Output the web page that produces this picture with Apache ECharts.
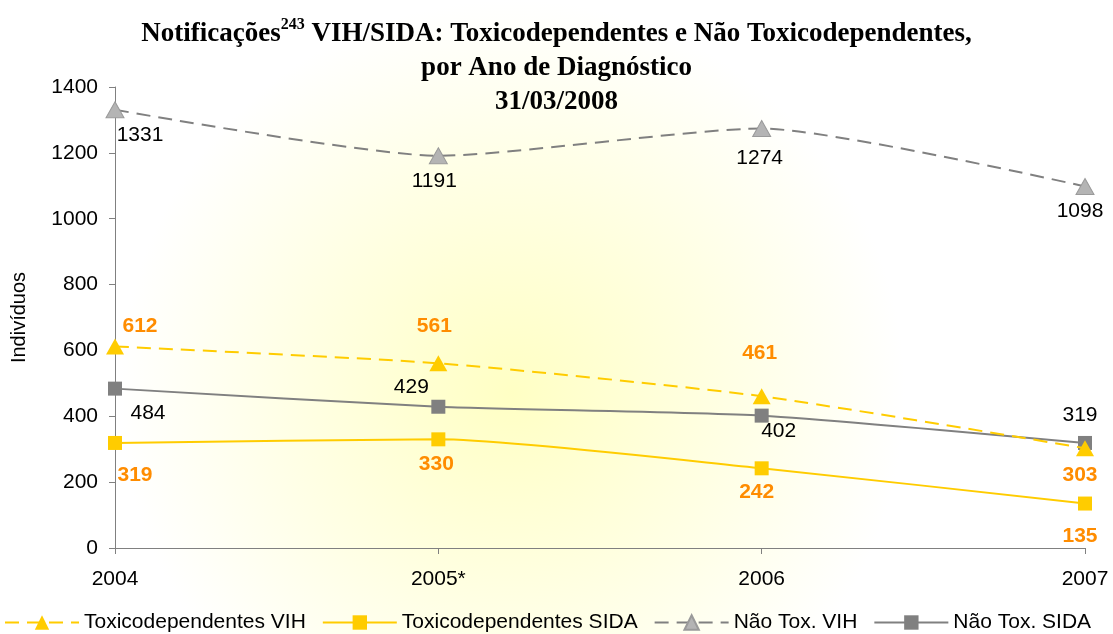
<!DOCTYPE html>
<html>
<head>
<meta charset="utf-8">
<script src="https://cdn.jsdelivr.net/npm/echarts@6/dist/echarts.min.js"></script>
<style>
  html, body { margin: 0; padding: 0; background: #fff; }
  #chart { width: 1113px; height: 634px; }
</style>
</head>
<body>
<div id="chart"></div>
<script>
const years = ['2004', '2005*', '2006', '2007']
const yTicks = [0, 200, 400, 600, 800, 1000, 1200, 1400]

const toxVih = [612, 561, 461, 303]
const toxSida = [319, 330, 242, 135]
const naoToxVih = [1331, 1191, 1274, 1098]
const naoToxSida = [484, 429, 402, 319]

// label offsets from the marker centre, one per point
const toxVihOff = [[25, -20], [-4, -37], [-2, -43], [-5, 27]]
const toxSidaOff = [[20, 32], [-2, 25], [-5, 24], [-5, 33]]
const naoVihOff = [[25, 25], [-4, 25], [-2, 30], [-5, 25]]
const naoSidaOff = [[33, 25], [-27, -20], [17, 16], [-5, -28]]

const sans = 'Liberation Sans, Arial, sans-serif'
const serif = 'Liberation Serif, Times New Roman, serif'
const orangeLabel = { color: '#FF8C00', fontWeight: 'bold', fontSize: 21, fontFamily: sans }
const blackLabel = { color: '#000', fontSize: 21, fontFamily: sans }

function points(values, offsets, style) {
  return values.map((v, i) => ({
    value: v,
    label: {
      show: true,
      position: 'inside',
      offset: offsets[i],
      formatter: String(v),
      ...style,
    },
  }))
}

const chart = echarts.init(document.getElementById('chart'))

const option = {
  animation: false,
  backgroundColor: {
    type: 'radial', x: 0.46, y: 0.62, r: 0.62,
    colorStops: [
      { offset: 0, color: '#FFFFC4' },
      { offset: 0.55, color: '#FFFFE4' },
      { offset: 1, color: '#FFFFFF' },
    ],
  },
  title: {
    left: 'center',
    top: 12,
    text: '{t|Notificações}{sup|243}{t| VIH/SIDA: Toxicodependentes e Não Toxicodependentes,}\n{t|por Ano de Diagnóstico}\n{t|31/03/2008}',
    textStyle: {
      rich: {
        t: { fontFamily: serif, fontWeight: 'bold', fontSize: 27, lineHeight: 34, color: '#000' },
        sup: { fontFamily: serif, fontWeight: 'bold', fontSize: 16, lineHeight: 34, verticalAlign: 'top', padding: [0, 0, 12, 0], color: '#000' },
      },
    },
  },
  grid: { left: 115, right: 28, top: 87, bottom: 86 },
  legend: {
    top: 612,
    left: 4,
    width: 1109,
    padding: 0,
    itemGap: 16,
    itemWidth: 74,
    itemHeight: 18,
    textStyle: { fontSize: 21, color: '#000', fontFamily: sans },
    data: ['Toxicodependentes VIH', 'Toxicodependentes SIDA', 'Não Tox. VIH', 'Não Tox. SIDA'],
  },
  xAxis: {
    type: 'category',
    data: years,
    boundaryGap: false,
    axisLine: { lineStyle: { color: '#808080' } },
    axisTick: { show: true, length: 6, lineStyle: { color: '#808080' } },
    axisLabel: { color: '#000', fontSize: 21, margin: 21, fontFamily: sans },
  },
  yAxis: {
    type: 'value',
    min: yTicks[0],
    max: yTicks[yTicks.length - 1],
    interval: 200,
    name: 'Indivíduos',
    nameLocation: 'middle',
    nameGap: 86,
    nameTextStyle: { color: '#000', fontSize: 20, fontFamily: sans },
    axisLine: { show: true, lineStyle: { color: '#808080' } },
    axisTick: { show: true, length: 6, lineStyle: { color: '#808080' } },
    splitLine: { show: false },
    axisLabel: { color: '#000', fontSize: 21, margin: 17, fontFamily: sans, formatter: (v) => String(v) },
  },
  series: [
    {
      name: 'Toxicodependentes VIH',
      type: 'line',
      data: points(toxVih, toxVihOff, orangeLabel),
      smooth: 0.2,
      symbol: 'triangle',
      symbolSize: [18, 16],
      itemStyle: { color: '#FFCC00' },
      lineStyle: { color: '#FFCC00', width: 2, type: [14, 8] },
      z: 3,
    },
    {
      name: 'Toxicodependentes SIDA',
      type: 'line',
      data: points(toxSida, toxSidaOff, orangeLabel),
      smooth: 0.2,
      symbol: 'rect',
      symbolSize: 14,
      itemStyle: { color: '#FFCC00' },
      lineStyle: { color: '#FFCC00', width: 2 },
      z: 3,
    },
    {
      name: 'Não Tox. VIH',
      type: 'line',
      data: points(naoToxVih, naoVihOff, blackLabel),
      smooth: 0.2,
      symbol: 'triangle',
      symbolSize: [18, 16],
      itemStyle: { color: '#B4B4B4', borderColor: '#9A9A9A', borderWidth: 1 },
      lineStyle: { color: '#808080', width: 2, type: [14, 8] },
      z: 2,
    },
    {
      name: 'Não Tox. SIDA',
      type: 'line',
      data: points(naoToxSida, naoSidaOff, blackLabel),
      smooth: 0.2,
      symbol: 'rect',
      symbolSize: 14,
      itemStyle: { color: '#808080' },
      lineStyle: { color: '#808080', width: 2 },
      z: 2,
    },
  ],
}

chart.setOption(option)
window.addEventListener('resize', () => chart.resize())
</script>
</body>
</html>
